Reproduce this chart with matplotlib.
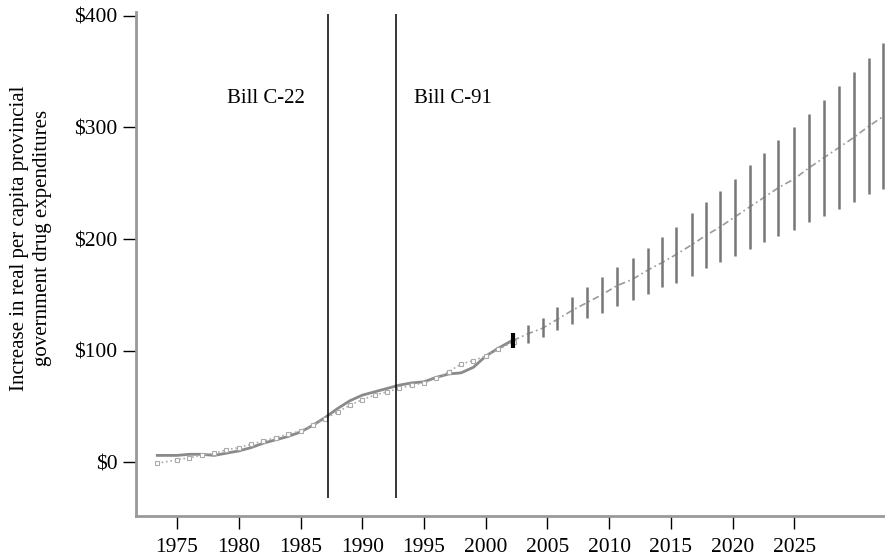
import matplotlib
matplotlib.use("Agg")
import matplotlib.pyplot as plt

# historical period (actual vs. fitted)
hist_years = [1973.4, 1975, 1976, 1977, 1978, 1979, 1980, 1981, 1982, 1983,
              1984, 1985, 1986, 1987, 1988, 1989, 1990, 1991, 1992, 1993,
              1994, 1995, 1996, 1997, 1998, 1999, 2000, 2001, 2002.3]
actual = [6, 6, 7, 7, 6, 8, 10, 13, 17, 20, 23, 27, 33, 40, 48, 55, 60, 63,
          66, 69, 71, 72, 76, 79, 80, 85, 95, 102, 110]
fitted = [-1, 2, 4, 6, 8, 11, 13, 16, 19, 22, 25, 28, 33, 39, 45, 51, 56, 60,
          63, 66, 69, 71, 75, 81, 88, 91, 95, 101, 108]

# forecast period with uncertainty ranges
fc_years = [2002.2, 2003.4, 2004.6, 2005.8, 2007.0, 2008.2, 2009.4, 2010.6,
            2011.9, 2013.1, 2014.3, 2015.4, 2016.7, 2017.8, 2019.0, 2020.2,
            2021.4, 2022.5, 2023.7, 2025.0, 2026.2, 2027.4, 2028.6, 2029.8,
            2031.0, 2032.2]
fc_mean = [109, 115, 120, 128, 136, 143, 150, 158, 164, 172, 179, 186, 195,
           203, 211, 220, 229, 237, 246, 254, 264, 273, 282, 291, 301, 310]
fc_low = [102, 107, 112, 118, 124, 129, 134, 140, 145, 151, 157, 161, 167,
          174, 179, 185, 191, 197, 203, 208, 215, 221, 227, 233, 240, 245]
fc_high = [116, 123, 129, 139, 148, 157, 166, 175, 183, 192, 202, 211, 223,
           233, 243, 254, 266, 277, 289, 300, 312, 325, 337, 350, 362, 376]

bills = [1987.2, 1992.7]
bill_labels = ["Bill C-22", "Bill C-91"]
xticks = [1975, 1980, 1985, 1990, 1995, 2000, 2005, 2010, 2015, 2020, 2025]
yticks = [0, 100, 200, 300, 400]

plt.rcParams["font.family"] = ["Liberation Serif", "DejaVu Serif"]
fig = plt.figure(figsize=(8.85, 5.58), dpi=100)
ax = fig.add_axes([0.1537, 0.0753, 0.8463, 0.9032])

ax.plot(hist_years, actual, color="#8a8a8a", lw=2)
ax.plot(hist_years, fitted, color="#aaaaaa", lw=1.2, ls=":",
        marker="s", ms=3.5, mfc="white", mec="#aaaaaa", mew=0.8)

ax.plot(fc_years, fc_mean, color="#9a9a9a", lw=1.2, ls=(0, (4, 2, 1, 2)))
ax.vlines(fc_years[1:], fc_low[1:], fc_high[1:], color="#777777", lw=1.8,
          clip_on=False)
ax.vlines(fc_years[0], fc_low[0], fc_high[0], color="black", lw=3)

ax.vlines(bills, -32, 402, color="black", lw=1.1, clip_on=False)
ax.text(1982.2, 326, bill_labels[0], ha="center", va="center", fontsize=15)
ax.text(1994.2, 326, bill_labels[1], ha="left", va="center", fontsize=15)

ax.set_xlim(1971.68, 2032.33)
ax.set_ylim(-48.3, 403.5)
ax.set_xticks(xticks)
ax.set_xticklabels([str(y) for y in xticks])
ax.set_yticks(yticks)
ax.set_yticklabels([f"${v}" for v in yticks])
ax.tick_params(axis="both", direction="out", length=9.5, width=1,
               colors="black", labelsize=15.5)
ax.tick_params(axis="x", pad=6)
ax.tick_params(axis="y", pad=4)

for side in ["top", "right"]:
    ax.spines[side].set_visible(False)
for side in ["left", "bottom"]:
    ax.spines[side].set_color("#999999")
    ax.spines[side].set_linewidth(2)

fig.text(31 / 885, 1 - 238 / 558,
         "Increase in real per capita provincial\ngovernment drug expenditures",
         rotation=90, ha="center", va="center", fontsize=15, linespacing=1.3)

fig.savefig("out.png", dpi=100)
